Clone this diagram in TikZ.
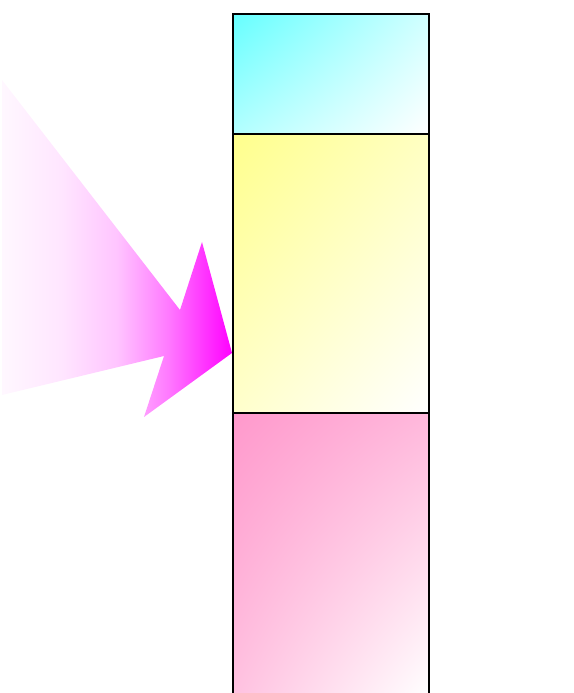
\documentclass[tikz,border=0pt]{standalone}
\usepackage{tikz}
\usetikzlibrary{positioning, shadings}
\definecolor{rose}{RGB}{255,153,204}
\pgfdeclarehorizontalshading{pointershade}{100bp}{color(0bp)=(magenta!3); color(25bp)=(magenta!3); color(38bp)=(magenta!10); color(50bp)=(magenta!23); color(61bp)=(magenta!52); color(75bp)=(magenta); color(100bp)=(magenta)}
\tikzstyle{panel} = [rectangle, draw=black, line width=1.4pt, inner sep=0pt, outer sep=0pt, minimum width=196pt]
\tikzstyle{pointer} = [shading=pointershade]

\begin{document}
\begin{tikzpicture}[x=1pt, y=1pt, node distance=0pt]
  \useasboundingbox (0,0) rectangle (573,693);
  \clip (0,0) rectangle (573,693);

  % Stapel
  \node[panel, minimum height=120pt, anchor=north west,
        upper left=cyan!60, upper right=cyan!18, lower left=cyan!30, lower right=white] (top) at (233,679) {};
  \node[panel, minimum height=279pt, below=0pt of top,
        upper left=yellow!45, upper right=yellow!24, lower left=yellow!20, lower right=white] (middle) {};
  \node[panel, minimum height=282pt, below=0pt of middle,
        upper left=rose, upper right=rose!70!white, lower left=rose!60!white, lower right=white] (bottom) {};

  % Pfeil
  \coordinate (tip) at (232,340);
  \shade[pointer] (tip) -- ++(-88,-64) -- ++(20,61) -- ++(-162,-39)
    -- ++(0,315) -- ++(178,-230) -- ++(22,68) -- cycle;
\end{tikzpicture}
\end{document}
